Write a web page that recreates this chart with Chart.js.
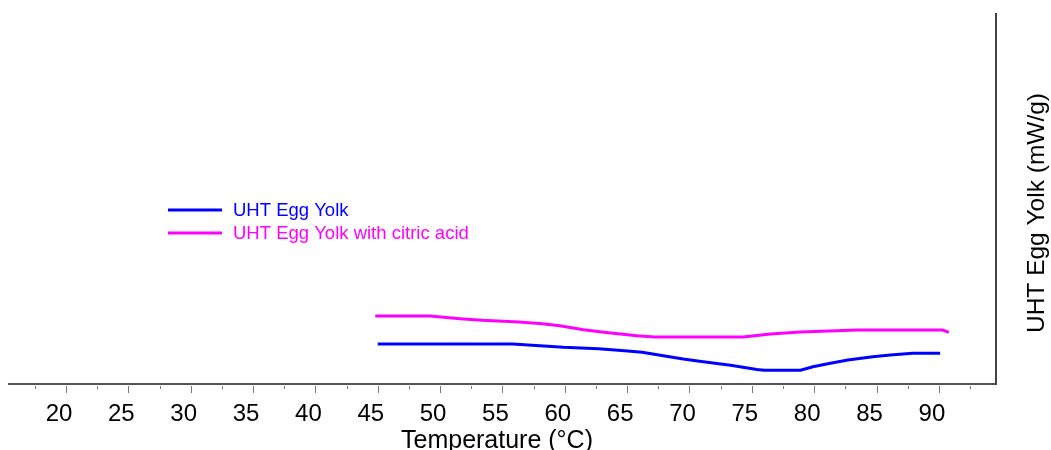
<!DOCTYPE html>
<html>
<head>
<meta charset="utf-8">
<title>UHT Egg Yolk DSC</title>
<script src="https://cdn.jsdelivr.net/npm/chart.js@4.4.1/dist/chart.umd.min.js"></script>
<style>
  html, body { margin: 0; padding: 0; background: #fff; }
  #wrap { width: 1051px; height: 450px; }
</style>
</head>
<body>
<div id="wrap"><canvas id="dscChart" width="1051" height="450"></canvas></div>
<script>
// data
const yolkTemp = [45.0, 55.8, 59.9, 62.7, 64.8, 66.2, 67.9, 69.5, 71.1, 73.3, 75.4, 76.0, 78.9, 79.9, 81.3, 82.7, 84.7, 86.1, 87.9, 90.1];
const yolkHeat = [0.40, 0.40, 0.367, 0.353, 0.333, 0.317, 0.283, 0.25, 0.223, 0.187, 0.145, 0.137, 0.137, 0.173, 0.207, 0.24, 0.273, 0.29, 0.307, 0.307];

const acidTemp = [44.8, 49.2, 51.6, 53.4, 56.3, 58.2, 59.6, 61.5, 63.5, 65.8, 67.2, 74.3, 76.5, 78.9, 83.5, 90.3, 90.8];
const acidHeat = [0.68, 0.68, 0.653, 0.637, 0.62, 0.603, 0.583, 0.543, 0.513, 0.483, 0.47, 0.47, 0.50, 0.52, 0.54, 0.54, 0.517];

const seriesNames = ['UHT Egg Yolk', 'UHT Egg Yolk with citric acid'];
const seriesColors = ['#0000ff', '#ff00ff'];

const xTicks = [20, 25, 30, 35, 40, 45, 50, 55, 60, 65, 70, 75, 80, 85, 90];
const xMinorTicks = [17.5, 22.5, 27.5, 32.5, 37.5, 42.5, 47.5, 52.5, 57.5, 62.5, 67.5, 72.5, 77.5, 82.5, 87.5, 92.5];

const xTitle = 'Temperature (°C)';
const yTitle = 'UHT Egg Yolk (mW/g)';

const FONT = '"Liberation Sans", Arial, sans-serif';
Chart.defaults.font.family = FONT;
Chart.defaults.color = '#000';

const toPoints = (xs, ys) => xs.map((x, i) => ({ x, y: ys[i] }));

// ticks, inner legend and axis titles
const extrasPlugin = {
  id: 'extras',
  afterDraw(chart) {
    const { ctx, chartArea } = chart;
    const x = chart.scales.x;
    ctx.save();

    // tick marks under the axis
    ctx.strokeStyle = '#777';
    ctx.lineWidth = 1;
    const base = chartArea.bottom + 2;
    xTicks.forEach(v => {
      const px = Math.round(x.getPixelForValue(v)) + 0.5;
      ctx.beginPath();
      ctx.moveTo(px, base);
      ctx.lineTo(px, base + 7);
      ctx.stroke();
    });
    xMinorTicks.forEach(v => {
      const px = Math.round(x.getPixelForValue(v)) + 0.5;
      ctx.beginPath();
      ctx.moveTo(px, base);
      ctx.lineTo(px, base + 3);
      ctx.stroke();
    });

    // legend inside the plot
    ctx.font = '18.5px ' + FONT;
    ctx.textBaseline = 'middle';
    ctx.textAlign = 'left';
    chart.data.datasets.forEach((ds, i) => {
      const ly = 210 + i * 23;
      ctx.strokeStyle = ds.borderColor;
      ctx.lineWidth = 3;
      ctx.beginPath();
      ctx.moveTo(168, ly);
      ctx.lineTo(222, ly);
      ctx.stroke();
      ctx.fillStyle = ds.borderColor;
      ctx.fillText(ds.label, 233, ly + 1);
    });

    // x title
    ctx.fillStyle = '#000';
    ctx.font = '25px ' + FONT;
    ctx.textAlign = 'center';
    ctx.textBaseline = 'alphabetic';
    ctx.fillText(xTitle, 497, 448);

    // rotated title on the right
    ctx.font = '24.5px ' + FONT;
    ctx.textBaseline = 'middle';
    ctx.translate(1037, 213);
    ctx.rotate(-Math.PI / 2);
    ctx.fillText(yTitle, 0, 0);
    ctx.restore();
  }
};

const ctx = document.getElementById('dscChart').getContext('2d');
const dscChart = new Chart(ctx, {
  type: 'line',
  data: {
    datasets: [
      {
        label: seriesNames[0],
        data: toPoints(yolkTemp, yolkHeat),
        borderColor: seriesColors[0],
        borderWidth: 3,
        pointRadius: 0,
        tension: 0,
        fill: false,
      },
      {
        label: seriesNames[1],
        data: toPoints(acidTemp, acidHeat),
        borderColor: seriesColors[1],
        borderWidth: 3,
        pointRadius: 0,
        tension: 0,
        fill: false,
      }
    ]
  },
  options: {
    responsive: false,
    animation: false,
    layout: { padding: { left: 9, top: 14, right: 0, bottom: 0 } },
    plugins: {
      legend: { display: false },
      tooltip: { enabled: false },
    },
    scales: {
      x: {
        type: 'linear',
        min: 15.43,
        max: 94.58,
        afterBuildTicks: (scale) => {
          scale.ticks = xTicks.map(v => ({ value: v }));
        },
        afterFit: (scale) => { scale.height = 66; },
        ticks: {
          autoSkip: false,
          maxRotation: 0,
          padding: 16,
          labelOffset: -7,
          color: '#000',
          font: { size: 24 },
        },
        grid: { display: true, drawOnChartArea: false, drawTicks: false },
        border: { display: true, color: '#555', width: 2 },
        title: { display: false },
      },
      y: {
        position: 'right',
        min: 0,
        max: 3.7,
        afterFit: (scale) => { scale.width = 55; },
        ticks: { display: false },
        grid: { display: true, drawOnChartArea: false, drawTicks: false },
        border: { display: true, color: '#444', width: 2 },
      }
    }
  },
  plugins: [extrasPlugin]
});
</script>
</body>
</html>
